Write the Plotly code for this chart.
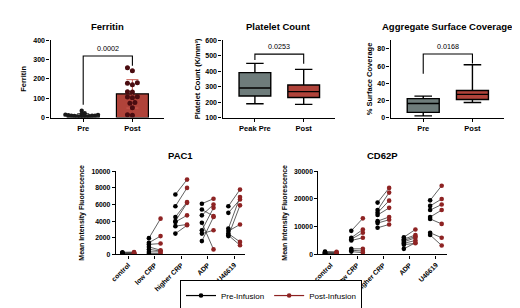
import plotly.graph_objects as go

FONT = "Liberation Sans, Arial, sans-serif"
W, H = 520, 308

# ---------------- data ----------------
ferritin_groups = ["Pre", "Post"]
ferritin_pre = [35, 22, 18, 15, 14, 12, 10, 10, 9, 8, 7, 6, 5, 4, 3]
ferritin_post = [258, 242, 180, 178, 170, 134, 132, 108, 106, 103, 78, 74, 51, 14, 12]
ferritin_p = "0.0002"
ferritin_bracket = [66, 319, 268]   # left leg end, top, right leg end

platelet_groups = ["Peak Pre", "Post"]
platelet_lower = [189, 185]
platelet_q1 = [240, 230]
platelet_median = [291, 268]
platelet_q3 = [391, 311]
platelet_upper = [451, 412]
platelet_p = "0.0253"
platelet_bracket = [473, 511, 448]

coverage_groups = ["Pre", "Post"]
coverage_lower = [2, 17.6]
coverage_q1 = [6, 21]
coverage_median = [16.4, 27]
coverage_q3 = [22, 31.6]
coverage_upper = [25, 61.5]
coverage_p = "0.0168"
coverage_bracket = [51, 74, 63]

agonists = ["control", "low CRP", "higher CRP", "ADP", "U46619"]
pac1_pre = [
    [250, 200, 150, 100, 80, 50, 30],
    [1950, 1400, 1200, 900, 600, 300, 100],
    [7200, 5800, 4500, 4000, 3900, 3400, 2500],
    [6100, 5400, 4700, 3800, 2900, 2500, 1600],
    [5800, 5000, 3100, 2800, 2500, 2300, 2200],
]
pac1_post = [
    [280, 150, 220, 120, 100, 60, 40],
    [4300, 2200, 1300, 500, 400, 300, 100],
    [9000, 8000, 6300, 6200, 4700, 3600, 3500],
    [6700, 4600, 6000, 600, 5600, 2900, 4500],
    [7800, 6600, 6900, 3600, 1500, 1100, 5900],
]
cd62p_pre = [
    [1000, 800, 600, 500, 300, 200, 100],
    [8500, 6000, 5500, 5000, 2000, 1500, 1000],
    [18700, 16000, 15000, 14200, 12000, 11300, 9600],
    [6200, 5500, 5000, 4500, 4000, 3500, 2000],
    [19500, 17500, 16000, 13500, 12800, 7800, 7000],
]
cd62p_post = [
    [900, 700, 500, 400, 300, 200, 100],
    [13000, 9000, 7800, 6000, 2000, 1200, 600],
    [24000, 22300, 19400, 16800, 13500, 12500, 10800],
    [9000, 7000, 6500, 6000, 5000, 4000, 4200],
    [24800, 20000, 18000, 16000, 11000, 6000, 3200],
]

# ---------------- style ----------------
GRAY = "#6E7C7B"
RED = "#B0433A"
DOT_PRE = "#1a1a1a"
DOT_POST = "#4a0c10"
PRE_C = "#000000"
POST_C = "#8E2323"

# panel pixel boxes: x0, x1, y0(top), y1(bottom)
boxes = {
    1: (37, 152, 29, 108),
    2: (211, 325, 29, 108),
    3: (381, 496, 29, 108),
    4: (103, 234, 163, 248),
    5: (308, 438, 163, 248),
}


def dom(b):
    x0, x1, y0, y1 = b
    return [x0 / W, x1 / W], [(H - y1) / H, (H - y0) / H]


fig = go.Figure()


def mean(v):
    return sum(v) / len(v)


def sd(v):
    m = mean(v)
    return (sum((x - m) ** 2 for x in v) / (len(v) - 1)) ** 0.5


def swarm(values, center, x_per_px, y_per_px, d=4.6):
    placed = []
    xs = [0.0] * len(values)
    order = sorted(range(len(values)), key=lambda i: values[i])
    s = d * 0.5
    for i in order:
        ypx = values[i] / y_per_px
        k = 0
        done = False
        while not done:
            cands = [0] if k == 0 else [-k * s, k * s]
            for c in cands:
                if all((c - px) ** 2 + (ypx - py) ** 2 >= d * d for px, py in placed):
                    placed.append((c, ypx))
                    xs[i] = center + c * x_per_px
                    done = True
                    break
            k += 1
    return xs


XR_TOP = [-0.663, 1.647]
XR_BOT = [-0.47, 4.42]

# ---- Panel 1: Ferritin ----
for i, (vals, fill, ecol) in enumerate([(ferritin_pre, GRAY, "#444444"), (ferritin_post, RED, "#C85A50")]):
    fig.add_trace(go.Bar(x=[i], y=[mean(vals)], width=0.65,
                         marker=dict(color=fill, line=dict(color="black", width=1.2)),
                         error_y=dict(type="data", array=[sd(vals)], color=ecol, thickness=1, width=6),
                         xaxis="x", yaxis="y", showlegend=False))
x1px = (boxes[1][1] - boxes[1][0]) / (XR_TOP[1] - XR_TOP[0])
y1px = (boxes[1][3] - boxes[1][2]) / 400
for i, (vals, col, sz, dd) in enumerate([(ferritin_pre, DOT_PRE, 4.4, 3.0), (ferritin_post, DOT_POST, 5, 5)]):
    xs = swarm(vals, i, 1 / x1px, 1 / y1px, d=dd)
    fig.add_trace(go.Scatter(x=xs, y=vals, mode="markers",
                             marker=dict(color=col, size=sz),
                             xaxis="x", yaxis="y", showlegend=False))

# ---- Panel 2 & 3: boxes ----
def add_boxes(ax, lower, q1, med, q3, upper):
    for i, fill in enumerate([GRAY, RED]):
        fig.add_trace(go.Box(x=[i], lowerfence=[lower[i]], q1=[q1[i]], median=[med[i]],
                             q3=[q3[i]], upperfence=[upper[i]], width=0.65,
                             fillcolor=fill, line=dict(color="black", width=1.4),
                             whiskerwidth=0.55, boxpoints=False,
                             xaxis="x" + ax, yaxis="y" + ax, showlegend=False))


add_boxes("2", platelet_lower, platelet_q1, platelet_median, platelet_q3, platelet_upper)
add_boxes("3", coverage_lower, coverage_q1, coverage_median, coverage_q3, coverage_upper)

# ---- Panels 4 & 5: paired ----
OFF = 0.22


def add_paired(ax, pre, post, legend):
    lx, ly, px, py, qx, qy = [], [], [], [], [], []
    for i in range(len(agonists)):
        for a, b in zip(pre[i], post[i]):
            lx += [i - OFF, i + OFF, None]
            ly += [a, b, None]
            px += [i - OFF, None]
            py += [a, None]
            qx += [i + OFF, None]
            qy += [b, None]
    fig.add_trace(go.Scatter(x=lx, y=ly, mode="lines", line=dict(color="#3a3a3a", width=0.8),
                             xaxis="x" + ax, yaxis="y" + ax, showlegend=False, hoverinfo="skip"))
    fig.add_trace(go.Scatter(x=px, y=py, mode="lines+markers", name="Pre-Infusion",
                             line=dict(color=PRE_C, width=1.2), marker=dict(color=PRE_C, size=4.6),
                             connectgaps=False, xaxis="x" + ax, yaxis="y" + ax, showlegend=legend))
    fig.add_trace(go.Scatter(x=qx, y=qy, mode="lines+markers", name="Post-Infusion",
                             line=dict(color=POST_C, width=1.2), marker=dict(color=POST_C, size=4.6),
                             connectgaps=False, xaxis="x" + ax, yaxis="y" + ax, showlegend=legend))


add_paired("4", pac1_pre, pac1_post, True)
add_paired("5", cd62p_pre, cd62p_post, False)

# ---------------- axes ----------------
TICKF = dict(family=FONT, size=7, color="black", weight="bold")
TITF = dict(family=FONT, size=7.5, color="black", weight="bold")
common = dict(showline=True, linecolor="black", linewidth=1.3, ticks="outside", ticklen=3,
              tickwidth=1, tickcolor="black", showgrid=False, zeroline=False, tickfont=TICKF)

layout_axes = {}
for k in range(1, 6):
    xd, yd = dom(boxes[k])
    sfx = "" if k == 1 else str(k)
    layout_axes["xaxis" + sfx] = dict(domain=xd, anchor="y" + sfx, **common)
    layout_axes["yaxis" + sfx] = dict(domain=yd, anchor="x" + sfx, **common)

xtf = dict(family=FONT, size=7.5, color="black", weight="bold")
layout_axes["xaxis"].update(range=XR_TOP, tickvals=[0, 1], ticktext=ferritin_groups, tickfont=xtf)
layout_axes["xaxis2"].update(range=XR_TOP, tickvals=[0, 1], ticktext=platelet_groups, tickfont=xtf)
layout_axes["xaxis3"].update(range=XR_TOP, tickvals=[0, 1], ticktext=coverage_groups, tickfont=xtf)
layout_axes["yaxis"].update(range=[0, 400], tickvals=[0, 100, 200, 300, 400],
                            title=dict(text="Ferritin", font=TITF, standoff=5))
layout_axes["yaxis2"].update(range=[100, 600], tickvals=[100, 200, 300, 400, 500, 600],
                             title=dict(text="Platelet Count (K/mm³)", font=TITF, standoff=3))
layout_axes["yaxis3"].update(range=[0, 90], tickvals=[0, 20, 40, 60, 80],
                             title=dict(text="% Surface Coverage", font=TITF, standoff=3))
btf = dict(family=FONT, size=6.8, color="black", weight="bold")
for a in ["xaxis4", "xaxis5"]:
    layout_axes[a].update(range=XR_BOT, tickvals=list(range(len(agonists))), ticktext=agonists,
                          tickangle=-45, tickfont=btf)
layout_axes["yaxis4"].update(range=[0, 10000], tickvals=[0, 2000, 4000, 6000, 8000, 10000],
                             tickformat="d", tickfont=btf,
                             title=dict(text="Mean Intensity Fluorescence", font=dict(TITF, size=7), standoff=5))
layout_axes["yaxis5"].update(range=[0, 30000], tickvals=[0, 10000, 20000, 30000],
                             tickformat="d", tickfont=btf,
                             title=dict(text="Mean Intensity Fluorescence", font=dict(TITF, size=7), standoff=5))

# ---------------- titles, brackets ----------------
annotations = []
shapes = []
titles = [(1, "Ferritin", 15), (2, "Platelet Count", 15), (3, "Aggregate Surface Coverage", 15),
          (4, "PAC1", 147), (5, "CD62P", 147)]
for k, t, ypx in titles:
    x0, x1, _, _ = boxes[k]
    annotations.append(dict(text=t, x=(x0 + x1) / 2 / W, y=(H - ypx) / H, xref="paper", yref="paper",
                            xanchor="center", yanchor="middle", showarrow=False,
                            font=dict(family=FONT, size=9.5, color="black", weight="bold")))

for ax, br, p in [("", ferritin_bracket, ferritin_p), ("2", platelet_bracket, platelet_p),
                  ("3", coverage_bracket, coverage_p)]:
    xr, yr = "x" + ax, "y" + ax
    shapes.append(dict(type="path", xref=xr, yref=yr,
                       path=f"M 0 {br[0]} L 0 {br[1]} L 1 {br[1]} L 1 {br[2]}",
                       line=dict(color="black", width=1.1)))
    annotations.append(dict(text=p, x=0.5, y=br[1], xref=xr, yref=yr, xanchor="center",
                            yanchor="bottom", yshift=1, showarrow=False,
                            font=dict(family=FONT, size=7.2, color="black")))

fig.update_layout(
    width=W, height=H, margin=dict(l=0, r=0, t=0, b=0),
    paper_bgcolor="white", plot_bgcolor="white",
    font=dict(family=FONT, color="black"),
    annotations=annotations, shapes=shapes,
    barmode="overlay",
    legend=dict(orientation="h", x=0.5, xanchor="center", y=2 / H, yanchor="bottom",
                bordercolor="black", borderwidth=1, bgcolor="white",
                font=dict(family=FONT, size=8, color="black"),
                itemwidth=30, tracegroupgap=0),
    **layout_axes,
)

fig.write_html("out.html")
